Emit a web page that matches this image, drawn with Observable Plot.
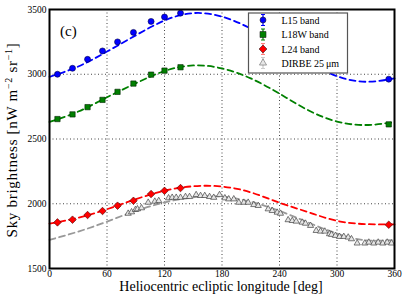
<!DOCTYPE html>
<html>
<head>
<meta charset="utf-8">
<script src="https://cdn.jsdelivr.net/npm/d3@7"></script>
<script src="https://cdn.jsdelivr.net/npm/@observablehq/plot@0.6"></script>
<style>
  html, body { margin: 0; padding: 0; background: white; }
  #chart { position: relative; width: 407px; height: 305px; }
</style>
</head>
<body>
<div id="chart"></div>
<script>
// ---- data ----
const xTicks = [0, 60, 120, 180, 240, 300, 360];
const yTicks = [1500, 2000, 2500, 3000, 3500];

// AKARI band points (heliocentric ecliptic longitude, deg)
const bandLon = [8.3, 24, 39.7, 55.3, 71, 87.6, 106, 120, 136.7, 354];
const l15  = [3000, 3046, 3115, 3180, 3250, 3323, 3408, 3442, 3472, 2962];
const l18w = [2654, 2690, 2746, 2802, 2864, 2928, 2997, 3028, 3054, 2613];
const l24  = [1856, 1877, 1913, 1944, 1985, 2023, 2075, 2100, 2121, 1838];

// dashed model curves, read at 30-deg steps
const fitLon = [0, 30, 60, 90, 120, 150, 180, 210, 240, 270, 300, 330, 360];
const fitL15  = [2980, 3060, 3175, 3300, 3415, 3472, 3445, 3352, 3222, 3092, 2985, 2942, 2968];
const fitL18w = [2632, 2712, 2822, 2930, 3025, 3068, 3045, 2968, 2850, 2722, 2635, 2608, 2630];
const fitL24  = [1846, 1892, 1958, 2035, 2100, 2135, 2133, 2088, 2008, 1935, 1868, 1843, 1840];
const fitDirbe = [1721, 1785, 1862, 1945, 2010, 2050, 2055, 2015, 1945, 1855, 1770, 1718, 1721];

// DIRBE 25 um points
const dirbeLon = [82.1, 85.6, 89.7, 91.8, 96, 103, 109.9, 114, 124.2, 128, 132.2, 136.7, 141.9, 146.1,
  153, 157.6, 162, 167, 171.4, 177.4, 183, 187, 192.3, 197.5, 202.8, 207.3, 213.2, 217.8, 228.2, 232.4,
  237.6, 241, 249, 253.3, 257.4, 263.7, 267.1, 272.4, 278.3, 282.8, 287.3, 292.2, 294.3, 298.4, 302.6,
  307.1, 311.7, 315.1, 321.1, 329, 333.2, 338.4, 343, 347.8, 352.4, 356.9];
const dirbe = [1925, 1936, 1954, 1959, 1967, 2010, 2018, 2023, 2044, 2048, 2048, 2048, 2054, 2054,
  2069, 2062, 2062, 2054, 2048, 2069, 2044, 2036, 2036, 2010, 2010, 2010, 1992, 1985, 1959, 1946,
  1933, 1925, 1875, 1869, 1864, 1856, 1848, 1831, 1792, 1787, 1787, 1767, 1762, 1754, 1746,
  1746, 1741, 1728, 1695, 1695, 1702, 1695, 1702, 1695, 1702, 1695];

const legendLabels = ["L15 band", "L18W band", "L24 band", "DIRBE 25\u2009μm"];

// ---- tables built from the arrays ----
const pts = (lon, v) => lon.map((x, i) => ({x, y: v[i]}));
const band15 = pts(bandLon, l15), band18 = pts(bandLon, l18w), band24 = pts(bandLon, l24);
const dirbePts = pts(dirbeLon, dirbe);

const cBlue = "#0000ff", cGreen = "#008000", cRed = "#ff0000", cGray = "#999999";
const dash = "6,4";
const serif = "'Liberation Serif', 'DejaVu Serif', serif";

const chart = Plot.plot({
  width: 407,
  height: 305,
  marginLeft: 49,
  marginRight: 13,
  marginTop: 9,
  marginBottom: 37,
  style: {fontFamily: serif, fontSize: "9.5px", background: "white", color: "black"},
  x: {domain: [0, 360], label: null},
  y: {domain: [1500, 3500], label: null},
  marks: [
    Plot.gridX(xTicks.slice(1, -1), {stroke: "#444", strokeOpacity: 1, strokeDasharray: "1,2.5"}),
    Plot.gridY(yTicks.slice(1, -1), {stroke: "#444", strokeOpacity: 1, strokeDasharray: "1,2.5"}),
    Plot.axisX(xTicks, {tickSize: 0, tickPadding: 1.5, fontSize: 9.5, tickFormat: d => String(d)}),
    Plot.axisY(yTicks, {tickSize: 0, tickPadding: 3, fontSize: 9.5, tickFormat: d => String(d)}),
    Plot.line(fitLon, {x: d => d, y: (d, i) => fitDirbe[i], stroke: cGray, strokeWidth: 1.8, strokeDasharray: dash, curve: "natural"}),
    Plot.line(fitLon, {x: d => d, y: (d, i) => fitL15[i], stroke: cBlue, strokeWidth: 1.8, strokeDasharray: dash, curve: "natural"}),
    Plot.line(fitLon, {x: d => d, y: (d, i) => fitL18w[i], stroke: cGreen, strokeWidth: 1.8, strokeDasharray: dash, curve: "natural"}),
    Plot.line(fitLon, {x: d => d, y: (d, i) => fitL24[i], stroke: cRed, strokeWidth: 1.8, strokeDasharray: dash, curve: "natural"}),
    Plot.dot(dirbePts, {x: "x", y: "y", symbol: "triangle", r: 2.3, fill: "#e6e6e6", stroke: "#444", strokeWidth: 0.7}),
    Plot.dot(band15, {x: "x", y: "y", symbol: "circle", r: 3, fill: cBlue, stroke: "#000044", strokeWidth: 0.6}),
    Plot.dot(band18, {x: "x", y: "y", symbol: "square", r: 3, fill: cGreen, stroke: "#002200", strokeWidth: 0.6}),
    Plot.dot(band24, {x: "x", y: "y", symbol: "diamond2", r: 3.4, fill: cRed, stroke: "#440000", strokeWidth: 0.6}),
    Plot.frame({stroke: "black", strokeWidth: 2})
  ]
});
document.getElementById("chart").appendChild(chart);

// ---- annotations: axis titles, panel label, legend ----
const svg = d3.select(chart);

svg.append("text")
  .attr("x", 221).attr("y", 291)
  .attr("text-anchor", "middle")
  .attr("font-family", serif).attr("font-size", 14)
  .text("Heliocentric ecliptic longitude [deg]");

const yl = svg.append("text")
  .attr("transform", "translate(17,140) rotate(-90)")
  .attr("text-anchor", "middle")
  .attr("font-family", serif).attr("font-size", 15)
  .attr("letter-spacing", 0.7);
yl.append("tspan").text("Sky brightness [nW m");
yl.append("tspan").attr("dy", -5.5).attr("font-size", 10).text("−2");
yl.append("tspan").attr("dy", 5.5).text(" sr");
yl.append("tspan").attr("dy", -5.5).attr("font-size", 10).text("−1");
yl.append("tspan").attr("dy", 5.5).text("]");

svg.append("text")
  .attr("x", 60).attr("y", 36)
  .attr("text-anchor", "start")
  .attr("font-family", serif).attr("font-size", 15)
  .text("(c)");

// legend
const lg = svg.append("g").attr("text-anchor", "start");
lg.append("rect").attr("x", 248.5).attr("y", 13).attr("width", 99).attr("height", 60)
  .attr("fill", "white").attr("stroke", "#555").attr("stroke-width", 1.2);
const legendSyms = [
  {sym: d3.symbolCircle, size: 28, fill: cBlue, ebar: cBlue},
  {sym: d3.symbolSquare, size: 36, fill: cGreen, ebar: cGreen},
  {sym: d3.symbolDiamond2, size: 40, fill: cRed, ebar: "#ff8080"},
  {sym: d3.symbolTriangle, size: 22, fill: "#e6e6e6", ebar: "#cccccc"}
];
const rowsY = [20, 34.5, 49, 63];
legendSyms.forEach((s, i) => {
  const cy = rowsY[i], cx = 263;
  lg.append("line").attr("x1", cx).attr("x2", cx).attr("y1", cy - 5.5).attr("y2", cy + 5.5).attr("stroke", s.ebar).attr("stroke-width", 1.2);
  lg.append("line").attr("x1", cx - 2).attr("x2", cx + 2).attr("y1", cy - 5.5).attr("y2", cy - 5.5).attr("stroke", s.ebar).attr("stroke-width", 1);
  lg.append("line").attr("x1", cx - 2).attr("x2", cx + 2).attr("y1", cy + 5.5).attr("y2", cy + 5.5).attr("stroke", s.ebar).attr("stroke-width", 1);
  lg.append("path").attr("d", d3.symbol(s.sym, s.size)()).attr("transform", `translate(${cx},${cy})`)
    .attr("fill", s.fill).attr("stroke", i === 3 ? "#666" : "#222").attr("stroke-width", 0.6);
  lg.append("text").attr("x", 281.5).attr("y", cy + 3.5)
    .attr("text-anchor", "start")
    .attr("font-family", serif).attr("font-size", 10)
    .text(legendLabels[i]);
});
</script>
</body>
</html>
